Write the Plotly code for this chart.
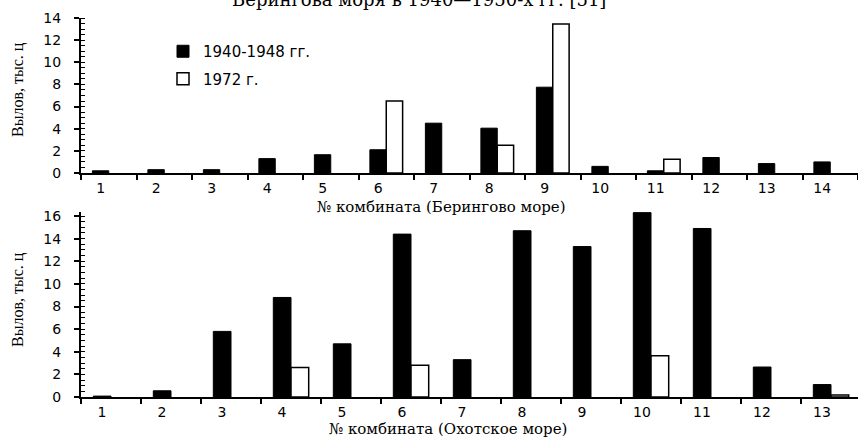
import plotly.graph_objects as go

# ---- data ----
bering_combines = list(range(1, 15))
bering_1940_48 = [0.2, 0.3, 0.3, 1.3, 1.65, 2.1, 4.5, 4.05, 7.75, 0.6, 0.2, 1.4, 0.85, 1.0]
bering_1972 = [None, None, None, None, None, 6.5, None, 2.5, 13.45, None, 1.25, None, None, None]

okhotsk_combines = list(range(1, 14))
okhotsk_1940_48 = [0.08, 0.55, 5.8, 8.8, 4.7, 14.4, 3.3, 14.7, 13.3, 16.3, 14.9, 2.65, 1.1]
okhotsk_1972 = [None, None, None, 2.6, None, 2.8, None, None, None, 3.65, None, None, 0.18]

series_names = ["1940-1948 гг.", "1972 г."]
y_title = "Вылов, тыс. ц"
x_title_bering = "№ комбината (Берингово море)"
x_title_okhotsk = "№ комбината (Охотское море)"
title_text = "Берингова моря в 1940—1950-х гг. [51]"

# ---- layout geometry ----
W, H = 858, 438
ML, MR, MT, MB = 81, 0, 18, 41
PH = H - MT - MB
PW = W - ML - MR

def py(pix):  # pixel row -> paper y
    return (H - MB - pix) / PH

def px(pix):  # pixel col -> paper x
    return (pix - ML) / PW

SANS = "DejaVu Sans"
SERIF = "DejaVu Serif"

fig = go.Figure()

black = dict(color="black", line=dict(color="black", width=1))
white = dict(color="white", line=dict(color="black", width=1.5))

fig.add_trace(go.Bar(x=bering_combines, y=bering_1940_48, name=series_names[0], marker=black,
                     xaxis="x", yaxis="y", legendgroup="a"))
fig.add_trace(go.Bar(x=bering_combines, y=bering_1972, name=series_names[1], marker=white,
                     xaxis="x", yaxis="y", legendgroup="b"))
fig.add_trace(go.Bar(x=okhotsk_combines, y=okhotsk_1940_48, name=series_names[0], marker=black,
                     xaxis="x2", yaxis="y2", showlegend=False, legendgroup="a"))
fig.add_trace(go.Bar(x=okhotsk_combines, y=okhotsk_1972, name=series_names[1], marker=white,
                     xaxis="x2", yaxis="y2", showlegend=False, legendgroup="b"))

tickfont = dict(family=SANS, size=14, color="black")

def xaxis(cats, rng, domain_anchor, bin_px, standoff):
    return dict(
        domain=[0, 1], anchor=domain_anchor, range=rng, automargin=False,
        tickmode="array", tickvals=cats, ticktext=[str(c) for c in cats],
        ticks="", ticklabelshift=-round(0.15 * bin_px), ticklabelstandoff=standoff,
        tickfont=tickfont, showline=True, linecolor="black", linewidth=2,
        showgrid=False, zeroline=False, fixedrange=True,
        minor=dict(tickmode="array", tickvals=[c + 0.5 for c in [0] + cats],
                   ticks="outside", ticklen=5, tickwidth=1.5, tickcolor="black", showgrid=False),
    )

def yaxis(domain, rng, anchor):
    return dict(
        domain=domain, anchor=anchor, range=rng, automargin=False,
        tickmode="linear", tick0=0, dtick=2, ticks="outside", ticklen=5, tickwidth=1.5,
        tickcolor="black", tickfont=tickfont, ticklabelstandoff=10,
        showline=True, linecolor="black", linewidth=2,
        showgrid=False, zeroline=False, fixedrange=True,
        minor=dict(tickmode="linear", tick0=0, dtick=0.5, ticks="inside", ticklen=4,
                   tickwidth=1, tickcolor="black", showgrid=False),
    )

fig.update_layout(
    width=W, height=H,
    margin=dict(l=ML, r=MR, t=MT, b=MB, pad=0),
    paper_bgcolor="white", plot_bgcolor="white",
    barmode="group", bargap=0.41, bargroupgap=0,
    xaxis=xaxis(bering_combines, [0.5, 14.5], "y", 55.5, 1),
    yaxis=yaxis([py(173), 1], [0, 14], "x"),
    xaxis2=xaxis(okhotsk_combines, [0.5, 0.5 + PW / 60.0], "y2", 60, 1),
    yaxis2=yaxis([0, py(211.5)], [0, 16.4], "x2"),
    legend=dict(x=px(163), y=py(35), xanchor="left", yanchor="top",
                font=dict(family=SANS, size=15, color="black"),
                bgcolor="rgba(0,0,0,0)", tracegroupgap=5, traceorder="grouped"),
    showlegend=True,
)

ann_font = dict(family=SERIF, size=15, color="black")
fig.add_annotation(text=title_text, xref="paper", yref="paper", x=px(419), y=py(12),
                   xanchor="center", yanchor="bottom", showarrow=False,
                   font=dict(family=SERIF, size=18, color="black"))
fig.add_annotation(text=x_title_bering, xref="paper", yref="paper", x=px(441), y=py(207),
                   xanchor="center", yanchor="middle", showarrow=False, font=ann_font)
fig.add_annotation(text=x_title_okhotsk, xref="paper", yref="paper", x=px(448), y=py(429),
                   xanchor="center", yanchor="middle", showarrow=False, font=ann_font)
for ycen in (90, 300):
    fig.add_annotation(text=y_title, xref="paper", yref="paper", x=px(18), y=py(ycen),
                       xanchor="center", yanchor="middle", showarrow=False, textangle=-90,
                       font=dict(family="Liberation Serif", size=16, color="black"))

fig.write_html("out.html", config={"displayModeBar": False},
               post_script="document.body.style.margin='0';")
